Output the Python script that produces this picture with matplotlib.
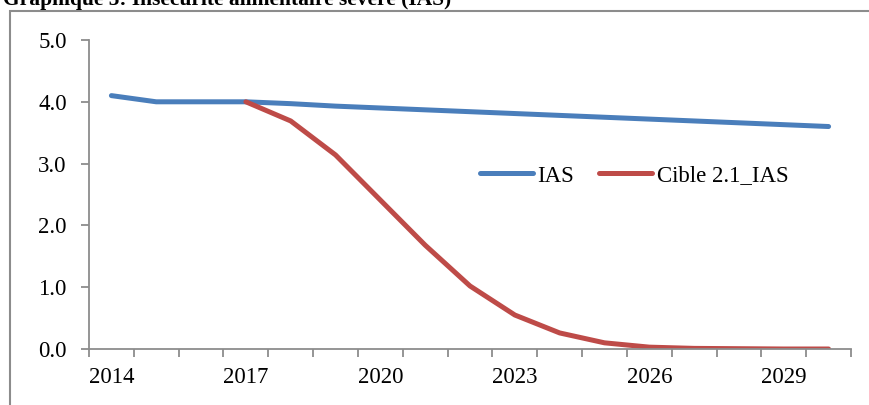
import numpy as np
import matplotlib.pyplot as plt
from matplotlib.patches import Rectangle

# Série IAS et trajectoire cible 2.1 (en %)
years = list(range(2014, 2031))
ias = [4.1, 4.0, 4.0, 4.0, 3.97, 3.93, 3.90, 3.87, 3.84, 3.81, 3.78, 3.75, 3.72, 3.69, 3.66, 3.63, 3.60]
cible_years = list(range(2017, 2031))
cible = [4.0, 3.69, 3.14, 2.41, 1.68, 1.02, 0.55, 0.26, 0.10, 0.03, 0.01, 0.005, 0.0, 0.0]
tick_years = [2014, 2017, 2020, 2023, 2026, 2029]

plt.rcParams['font.family'] = ['Liberation Serif', 'DejaVu Serif']

fig = plt.figure(figsize=(8.69, 4.05), dpi=100)
W, H = 869, 405

# cadre du graphique
fig.patches.append(Rectangle((10 / W, -0.1), 1.0, (H - 11) / H + 0.1,
                             transform=fig.transFigure, fill=False,
                             edgecolor='#8c8c8c', lw=1.5))
fig.text(3 / W, 1 - 5.5 / H, "Graphique 5: Insécurité alimentaire sévère (IAS)",
         fontsize=15.5, fontweight='bold', va='baseline', ha='left')

ax = fig.add_axes([89 / W, 1 - 349 / H, (851 - 89) / W, (349 - 40) / H])

x_ias = [years.index(y) for y in years]
x_cible = [years.index(y) for y in cible_years]
ax.plot(x_ias, ias, color='#4A7EBB', lw=3.6, solid_capstyle='round', label='IAS')
ax.plot(x_cible, cible, color='#BE4B48', lw=3.6, solid_capstyle='round', label='Cible 2.1_IAS')

ax.set_xlim(-0.5, len(years) - 0.5)
ax.set_ylim(0, 5)
ax.set_yticks(np.arange(0, 5.01, 1.0))
ax.set_yticklabels([f"{v:.1f}" for v in np.arange(0, 5.01, 1.0)])
ax.set_xticks(np.arange(-0.5, len(years), 1.0), minor=False)
ax.set_xticklabels([])
ax.set_xticks([years.index(y) for y in tick_years], minor=True)
ax.set_xticklabels([str(y) for y in tick_years], minor=True)

for s in ['top', 'right']:
    ax.spines[s].set_visible(False)
for s in ['left', 'bottom']:
    ax.spines[s].set_color('#8c8c8c')
    ax.spines[s].set_linewidth(1.3)
ax.tick_params(axis='y', direction='out', length=6, width=1.3, color='#8c8c8c',
               labelsize=16.5, pad=10)
ax.tick_params(axis='x', which='major', direction='out', length=6, width=1.3, color='#8c8c8c')
ax.tick_params(axis='x', which='minor', length=0, labelsize=16.5, pad=13)

ax.legend(loc='center left', bbox_to_anchor=(382 / 762, (349 - 176) / 309),
          ncol=2, frameon=False, fontsize=16.5, handlelength=2.3,
          handletextpad=0.2, columnspacing=1.1, borderaxespad=0)

fig.savefig('out.png', dpi=100)
